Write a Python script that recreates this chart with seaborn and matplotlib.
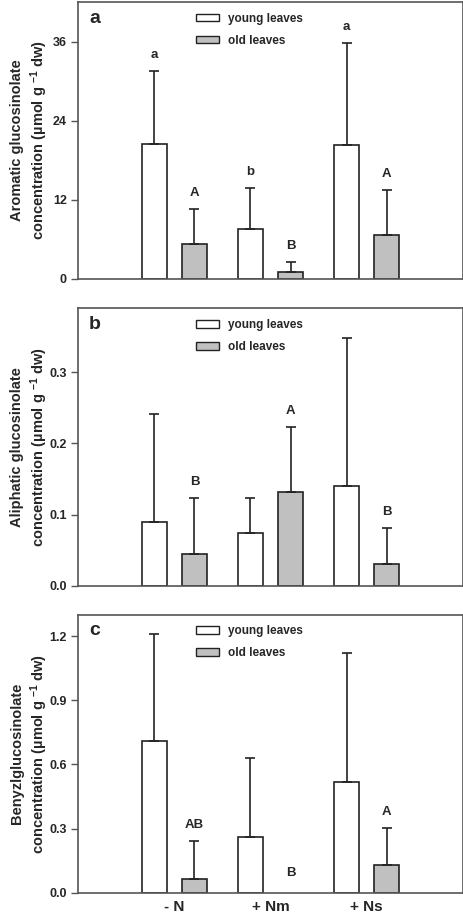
import numpy as np
import pandas as pd
import matplotlib
matplotlib.use("Agg")
import matplotlib.pyplot as plt
from matplotlib.patches import Patch
import seaborn as sns

# ---------------- data ----------------
treatments = ["- N", "+ Nm", "+ Ns"]
leaf_levels = ["young leaves", "old leaves"]

# panel a: aromatic glucosinolate
arom_young = [20.4, 7.5, 20.3]
arom_old = [5.3, 1.0, 6.6]
arom_young_top = [31.5, 13.7, 35.8]
arom_old_top = [10.6, 2.5, 13.5]
arom_young_letters = ["a", "b", "a"]
arom_old_letters = ["A", "B", "A"]

# panel b: aliphatic glucosinolate
aliph_young = [0.090, 0.074, 0.140]
aliph_old = [0.044, 0.132, 0.031]
aliph_young_top = [0.241, 0.124, 0.348]
aliph_old_top = [0.124, 0.223, 0.081]
aliph_young_letters = ["", "", ""]
aliph_old_letters = ["B", "A", "B"]

# panel c: benzylglucosinolate
benz_young = [0.71, 0.26, 0.52]
benz_old = [0.063, 0.0, 0.131]
benz_young_top = [1.211, 0.632, 1.122]
benz_old_top = [0.243, 0.0, 0.301]
benz_young_letters = ["", "", ""]
benz_old_letters = ["AB", "B", "A"]

panel_tags = ["a", "b", "c"]
ylabels = [
    "Aromatic glucosinolate\nconcentration (µmol g $^{-1}$ dw)",
    "Aliphatic glucosinolate\nconcentration (µmol g $^{-1}$ dw)",
    "Benyzlglucosinolate\nconcentration (µmol g $^{-1}$ dw)",
]
yticks_list = [[0, 12, 24, 36], [0.0, 0.1, 0.2, 0.3], [0.0, 0.3, 0.6, 0.9, 1.2]]
ytick_fmt = ["{:.0f}", "{:.1f}", "{:.1f}"]
ylims = [(0, 42), (0, 0.39), (0, 1.30)]

panels = [
    (arom_young, arom_old, arom_young_top, arom_old_top, arom_young_letters, arom_old_letters),
    (aliph_young, aliph_old, aliph_young_top, aliph_old_top, aliph_young_letters, aliph_old_letters),
    (benz_young, benz_old, benz_young_top, benz_old_top, benz_young_letters, benz_old_letters),
]

# ---------------- style ----------------
sns.set_style("ticks")
plt.rcParams["font.family"] = ["Liberation Sans", "DejaVu Sans"]
plt.rcParams["font.weight"] = "bold"
plt.rcParams["mathtext.fontset"] = "custom"
plt.rcParams["mathtext.rm"] = "Liberation Sans:bold"
plt.rcParams["mathtext.default"] = "rm"

W, H = 464, 914
fig = plt.figure(figsize=(W / 100, H / 100), dpi=100)

ax_px = [(2, 278.7), (308.3, 585.7), (614.7, 892.7)]
left_px, right_px = 78, 463

palette = {"young leaves": "white", "old leaves": "#c0c0c0"}
edge = "#222222"
spine_col = "#555555"

for i, (young, old, ytop, otop, ylet, olet) in enumerate(panels):
    top, bot = ax_px[i]
    ax = fig.add_axes([left_px / W, 1 - bot / H, (right_px - left_px) / W, (bot - top) / H])

    df = pd.DataFrame({
        "treatment": treatments * 2,
        "leaf": [leaf_levels[0]] * 3 + [leaf_levels[1]] * 3,
        "value": list(young) + list(old),
    })
    sns.barplot(data=df, x="treatment", y="value", hue="leaf",
                order=treatments, hue_order=leaf_levels, palette=palette,
                edgecolor=edge, linewidth=1.2, width=0.84, gap=0.38,
                errorbar=None, legend=False, ax=ax)

    patches = [p for p in ax.patches]
    tops = list(ytop) + list(otop)
    vals = list(young) + list(old)
    lets = list(ylet) + list(olet)
    for p, v, t, lab in zip(patches, vals, tops, lets):
        xc = p.get_x() + p.get_width() / 2
        if v <= 0:
            p.set_visible(False)
        if t > v:
            ax.errorbar([xc], [v], yerr=[[0], [t - v]], fmt="none", ecolor=edge,
                        elinewidth=1.2, capsize=3.6, capthick=1.2, zorder=1)
        if lab:
            off = 11.5 if t > 0 else 14
            ax.annotate(lab, (xc, t), xytext=(0, off), textcoords="offset points",
                        ha="center", va="center", fontsize=9.5, fontweight="bold")

    ax.set_xlim(-1, 3)
    ax.set_ylim(*ylims[i])
    yt = yticks_list[i]
    ax.set_yticks(yt)
    ax.set_yticklabels([ytick_fmt[i].format(v) for v in yt], fontsize=9, fontweight="bold")
    ax.tick_params(axis="y", direction="out", length=5, width=1, color=spine_col, pad=3)
    if i == 2:
        ax.set_xticks(range(3))
        ax.set_xticklabels(treatments, fontsize=11, fontweight="bold")
        ax.tick_params(axis="x", length=0, pad=5)
    else:
        ax.set_xticks([])
    ax.set_xlabel("")
    ax.set_ylabel(ylabels[i], fontsize=10.5, fontweight="bold", linespacing=1.3)
    ax.yaxis.set_label_coords(-0.072, 0.5)
    for s in ax.spines.values():
        s.set_visible(True)
        s.set_color(spine_col)
        s.set_linewidth(1.2)

    ax.text(0.044, 0.942, panel_tags[i], transform=ax.transAxes, fontsize=14,
            fontweight="bold", ha="center", va="center")

    handles = [Patch(facecolor=palette[l], edgecolor=edge, linewidth=1.0) for l in leaf_levels]
    ax.legend(handles, leaf_levels, loc="upper left", bbox_to_anchor=(0.278, 1.0),
              frameon=False, handlelength=2.0, handleheight=0.62,
              labelspacing=0.85, handletextpad=0.7, borderaxespad=0.5,
              prop={"weight": "bold", "size": 8.5})

fig.savefig("out.png", dpi=100)
